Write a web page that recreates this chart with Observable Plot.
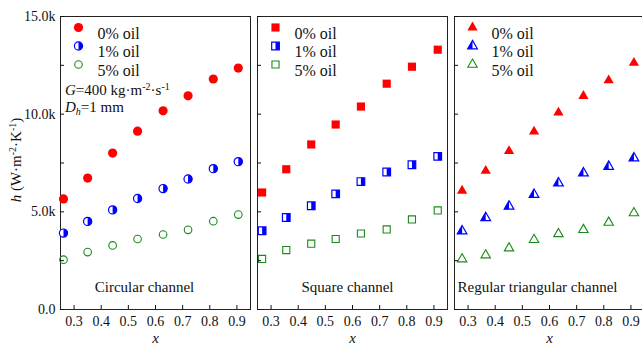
<!DOCTYPE html>
<html><head><meta charset="utf-8">
<script src="https://cdn.jsdelivr.net/npm/d3@7"></script>
<script src="https://cdn.jsdelivr.net/npm/@observablehq/plot@0.6"></script>
<style>
html,body{margin:0;padding:0;overflow:hidden;background:#fff}
#chart svg{display:block;max-width:none !important;width:650px !important;height:347px !important}
#chart svg text{font-family:"Liberation Serif","DejaVu Serif",serif !important}
</style></head><body><div id="chart"></div>
<script>
const panels = ["Circular channel", "Square channel", "Regular triangular channel"];
const oils = ["0% oil", "1% oil", "5% oil"];

const xCircular = [0.261, 0.350, 0.442, 0.534, 0.628, 0.720, 0.813, 0.905];
const xSquare = [0.267, 0.356, 0.448, 0.538, 0.631, 0.726, 0.819, 0.914];
const xTriangular = [0.278, 0.365, 0.451, 0.543, 0.633, 0.725, 0.818, 0.911];

const hCircular0 = [5660, 6730, 8010, 9130, 10170, 10940, 11800, 12360];
const hCircular1 = [3910, 4510, 5100, 5680, 6190, 6680, 7210, 7570];
const hCircular5 = [2550, 2940, 3280, 3610, 3840, 4080, 4520, 4860];

const hSquare0 = [5990, 7180, 8450, 9470, 10390, 11560, 12430, 13300];
const hSquare1 = [4030, 4710, 5310, 5920, 6550, 7040, 7410, 7840];
const hSquare5 = [2590, 3040, 3370, 3610, 3890, 4100, 4610, 5070];

const hTriangular0 = [6080, 7100, 8110, 9110, 10080, 10930, 11730, 12630];
const hTriangular1 = [4010, 4690, 5280, 5880, 6470, 6980, 7320, 7750];
const hTriangular5 = [2580, 2780, 3140, 3570, 3870, 4080, 4450, 4940];

const yTickLabels = [0, 5000, 10000, 15000];
const yTickMarks = [0, 2500, 5000, 7500, 10000, 12500, 15000];
const xTickValues = [0.3, 0.4, 0.5, 0.6, 0.7, 0.8, 0.9];

const xs = [xCircular, xSquare, xTriangular];
const hs = [[hCircular0, hCircular1, hCircular5], [hSquare0, hSquare1, hSquare5], [hTriangular0, hTriangular1, hTriangular5]];
const rows = [];
panels.forEach((p, i) => oils.forEach((o, j) => xs[i].forEach((x, k) => rows.push({panel: p, oil: o, x, h: hs[i][j][k]}))));

const RED = "#ff0000", BLUE = "#0000ff", GREEN = "#1a8a1a";

const halfCircle = {draw(ctx, size) { const r = Math.sqrt(size / Math.PI); ctx.moveTo(0, -r); ctx.arc(0, 0, r, -Math.PI / 2, Math.PI / 2); ctx.closePath(); }};
const halfSquare = {draw(ctx, size) { const w = Math.sqrt(size); ctx.rect(0, -w / 2, w / 2, w); }};
const halfTriangle = {draw(ctx, size) { const y = -Math.sqrt(size / (Math.sqrt(3) * 3)); ctx.moveTo(0, y * 2); ctx.lineTo(Math.sqrt(3) * y, -y); ctx.lineTo(0, -y); ctx.closePath(); }};

const shape = [
  {sym: "circle", half: halfCircle, r0: 4.6, r1: 4.1, r5: 3.8},
  {sym: "square", half: halfSquare, r0: 4.6, r1: 4.3, r5: 4.0},
  {sym: "triangle", half: halfTriangle, r0: 3.8, r1: 3.6, r5: 3.5}
];

function styles(i, j) {
  const s = shape[i];
  if (j === 0) return [{symbol: s.sym, r: s.r0, fill: RED, stroke: "none"}];
  if (j === 1) return [
    {symbol: s.sym, r: s.r1, fill: "white", stroke: BLUE, strokeWidth: 1.2},
    {symbol: s.half, r: s.r1, fill: BLUE, stroke: "none"}
  ];
  return [{symbol: s.sym, r: s.r5, fill: "none", stroke: GREEN, strokeWidth: 1.1}];
}

const marks = [Plot.frame({stroke: "#222"})];
const legendDy = [11, 29.5, 48];
const labelDx = [-11, -5, -12];

panels.forEach((p, i) => {
  oils.forEach((o, j) => {
    const data = rows.filter(d => d.panel === p && d.oil === o);
    for (const st of styles(i, j)) {
      marks.push(Plot.dot(data, {x: "x", y: "h", fx: "panel", ...st}));
      marks.push(Plot.dot([p], {fx: d => d, x: null, y: null, frameAnchor: "top-left", dx: 18, dy: legendDy[j], ...st}));
    }
    marks.push(Plot.text([p], {fx: d => d, x: null, y: null, text: () => o, frameAnchor: "top-left", dx: 37, dy: legendDy[j], textAnchor: "start", fontSize: 16, fill: "#111"}));
  });
  marks.push(Plot.text([p], {fx: d => d, x: null, y: null, text: d => d, frameAnchor: "bottom", dx: labelDx[i], dy: -18, fontSize: 15, fill: "#111"}));
  marks.push(Plot.text([p], {fx: d => d, x: null, y: null, text: () => "x", frameAnchor: "bottom", dy: 33, fontSize: 15, fontStyle: "italic", fill: "#111"}));
});

marks.push(
  Plot.axisY({ticks: yTickLabels, tickSize: 0, tickPadding: 5, tickFormat: v => v === 0 ? "0.0" : (v / 1000).toFixed(1) + "k", label: null, fontSize: 14}),
  Plot.axisY({ticks: yTickMarks, tickSize: -4, fill: "none", facetAnchor: null, label: null}),
  Plot.axisX({ticks: xTickValues, tickSize: 0, tickPadding: 7, tickFormat: v => v.toFixed(1), label: null, fontSize: 14}),
  Plot.axisX({ticks: xTickValues, tickSize: -4, fill: "none", label: null})
);

const chart = Plot.plot({
  width: 650, height: 347,
  marginLeft: 60, marginRight: 5, marginTop: 16, marginBottom: 38,
  x: {domain: [0.25, 0.95]},
  y: {domain: [0, 15000]},
  fx: {domain: panels, paddingInner: 0.0355, paddingOuter: 0, axis: null, label: null},
  style: {fontSize: "14px", color: "#111", background: "white"},
  marks
});
document.getElementById("chart").append(chart);

const svg = d3.select(chart);
// y-axis title
const yt = svg.append("text").attr("transform", "translate(21,160) rotate(-90)")
  .attr("text-anchor", "middle").attr("font-size", 15).attr("fill", "#111");
yt.append("tspan").attr("font-style", "italic").text("h");
yt.append("tspan").text(" (W·m");
yt.append("tspan").attr("dy", -5).attr("font-size", 10).text("-2");
yt.append("tspan").attr("dy", 5).text("·K");
yt.append("tspan").attr("dy", -5).attr("font-size", 10).text("-1");
yt.append("tspan").attr("dy", 5).text(")");
// annotations
const g1 = svg.append("text").attr("x", 65).attr("y", 95).attr("text-anchor", "start").attr("font-size", 15).attr("fill", "#111");
g1.append("tspan").attr("font-style", "italic").text("G");
g1.append("tspan").text("=400 kg·m");
g1.append("tspan").attr("dy", -5).attr("font-size", 10).text("-2");
g1.append("tspan").attr("dy", 5).text("·s");
g1.append("tspan").attr("dy", -5).attr("font-size", 10).text("-1");
const g2 = svg.append("text").attr("x", 65).attr("y", 112).attr("text-anchor", "start").attr("font-size", 15).attr("fill", "#111");
g2.append("tspan").attr("font-style", "italic").text("D");
g2.append("tspan").attr("dy", 3).attr("font-size", 10).attr("font-style", "italic").text("h");
g2.append("tspan").attr("dy", -3).text("=1 mm");
</script></body></html>
